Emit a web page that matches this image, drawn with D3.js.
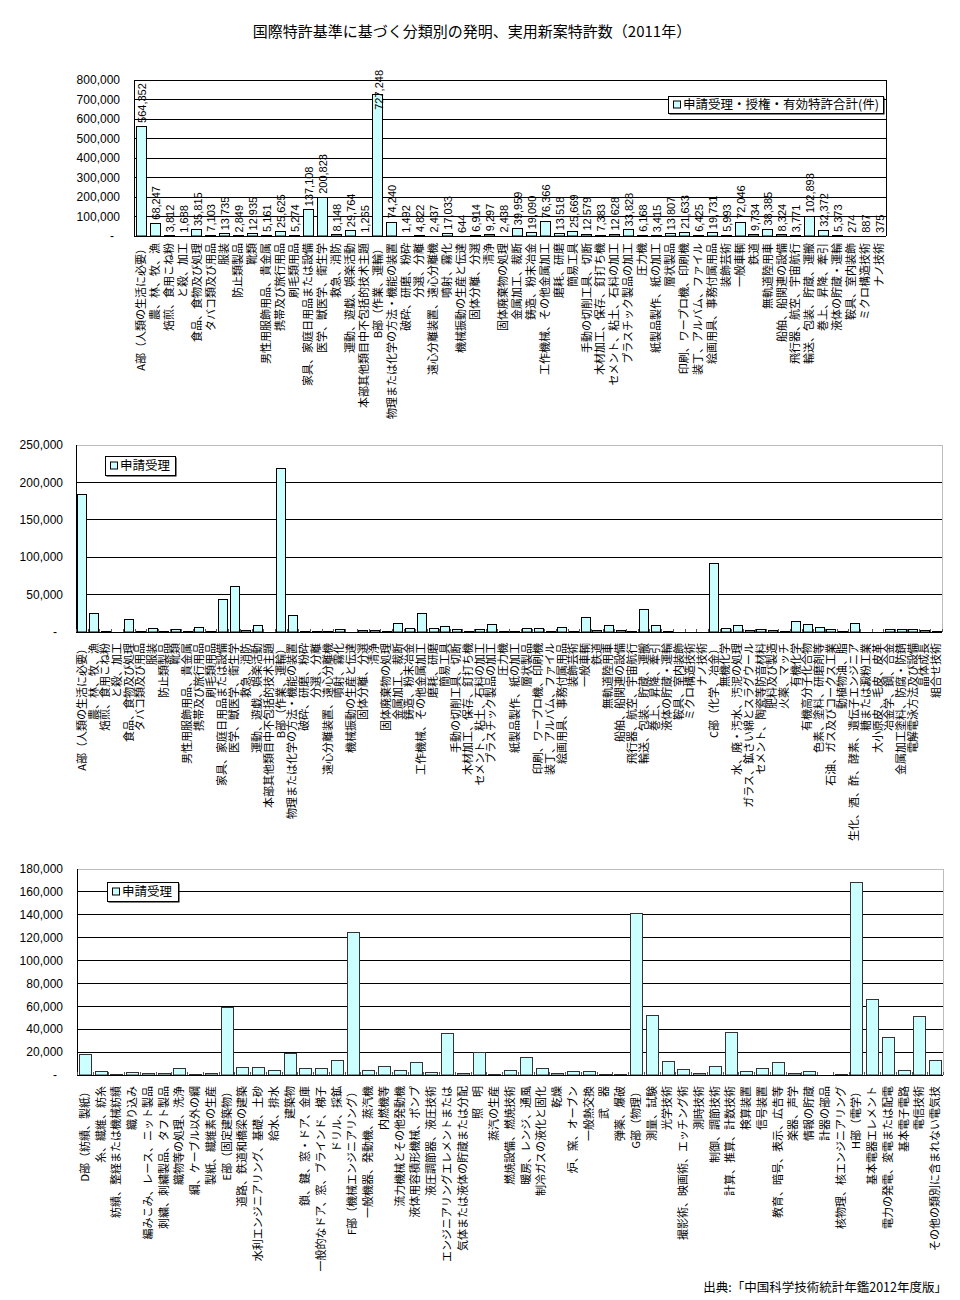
<!DOCTYPE html>
<html><head><meta charset="utf-8">
<script src="https://cdn.jsdelivr.net/npm/d3@7"></script>
<style>body{margin:0;background:#fff;} svg{display:block;}</style>
</head><body><svg id="c" width="960" height="1300"></svg>
<script>
const titleText = "国際特許基準に基づく分類別の発明、実用新案特許数（2011年）";
const sourceText = "出典:「中国科学技術統計年鑑2012年度版」";
const legend1 = "申請受理・授権・有効特許合計(件)";
const legend2 = "申請受理";

const catsA = ["A部（人類の生活に必要）","農、林、牧、漁","焙煎、食用こね粉","と殺、加工","食品、食物及び処理","タバコ類及び用品","服装","防止類製品","靴類","男性用服飾用品、貴金属","携帯及び旅行用品","刷毛類用品","家具、家庭日用品または設備","医学、獣医学、衛生学","救急、消防","運動、遊戯、娯楽活動","本部其他類目中不包括的技术主題"];
const catsB = ["B部（作業、運輸）","物理または化学の方法・機能の装置","破砕、研磨、粉砕","分選、分離","遠心分離装置、遠心分離機","噴射、霧化","機械振動の生産と伝達","固体分離、分選","清浄","固体廃棄物の処理","金属加工、裁断","鋳造、粉末冶金","工作機械、その他金属加工","磨耗、研磨","簡易工具","手動の切削工具、切断","木材加工、保存、釘打ち機","セメント、粘土、石料の加工","プラスチック製品の加工","圧力機","紙製品製作、紙の加工","層状製品","印刷、ワープロ機、印刷機","装丁、アルバム、ファイル","絵画用具、事務付属用品","装飾芸術","一般車輌","鉄道","無軌道陸用車","船舶、船関連の設備","飛行器、航空、宇宙航行","輸送、包装、貯蔵、運搬","巻上、昇降、牽引","液体の貯蔵・運輸","鞍具、室内装飾","ミクロ構造技術","ナノ技術"];
const catsC = ["C部（化学、冶金）","無機化学","水、廃・汚水、汚泥の処理","ガラス、鉱さい綿とスラグウール","セメント、陶瓷等防音材料","肥料及び製造","火薬、マッチ","有機化学","有機高分子化合物","色素、塗料、研磨剤等","石油、ガス及びコークス工業","動植物油、脂","生化、酒、酢、酵素、遺伝子エンジニア","糖または澱粉工業","大小原皮、毛皮、皮革","冶金学、鋼、合金","金属加工塗料、防腐・防錆","電解電泳方法及び設備","晶体成長","組合せ技術"];
const catsD = ["D部（紡績、製紙）","糸、繊維、紡糸","紡績、整経または機械紡績","織り込み","編みこみ、レース、ニット製品","刺繍、刺繍製品、タフト製品","織物等の処理、洗浄","綱、ケーブル以外の綱","製紙、繊維素の生産"];
const catsE = ["E部（固定建築物）","道路、鉄道和橋梁の建築","水利エンジニアリング、基礎、土砂","給水、排水","建築物","鎖、鍵、窓・ドア、金庫","一般的なドア、窓、ブラインド、梯子","ドリル、採鉱"];
const catsF = ["F部（機械エンジニアリング）","一般機器、発動機、蒸汽機","内燃機等","流力機械とその他発動機","液体用容積形機械、ポンプ","液圧調節器、液圧技術","エンジニアリングエレメントまたは","気体または液体の貯蔵または分配","照　明","蒸汽の生産","燃焼設備、燃焼技術","暖房、レンジ、通風","制冷ガスの液化と固化","乾燥","炉、窯、オーブン","一般熱交換","武　器","弾薬、爆破"];
const catsG = ["G部（物理）","測量、試験","光学技術","撮影術、映画術、エッチング術","測時技術","制御、調節技術","計算、推算、計数技術","検算装置","信号装置","教育、暗号、表示、広告等","楽器、声学","情報の貯蔵","計器の部品","核物理、核エンジニアリング"];
const catsH = ["H部（電学）","基本電器エレメント","電力の発電、変電または配電","基本電子電路","電信技術","その他の類別に含まれない電気技"];

// Chart 1: total of applications, grants and valid patents (A, B sections)
const totalA = [564352,68247,3812,1688,35815,7103,13735,2849,12935,5161,25625,5274,137108,200823,8148,29764,1265];
const totalB = [727248,74240,1492,4822,2437,17033,644,6914,9297,2438,39959,19090,76366,13518,25669,12579,7383,12628,33828,6168,3415,13807,21633,6425,19731,5993,72046,9734,38385,8324,3771,102893,32372,5373,274,887,375];
// Chart 2: applications (A, B, C sections)
const appsA = [185000,25000,1000,600,17000,1000,6000,1000,3500,1000,7000,1000,43700,61500,2200,9000,600];
const appsB = [218700,22300,2000,1000,800,4500,200,2700,2700,800,11600,5000,25000,6000,7600,3600,1000,3600,10700,1000,800,4900,4900,800,6200,1000,19600,2200,8900,2200,1000,30400,8900,1000,100,300,150];
const appsC = [92000,4900,8900,2200,3600,2200,800,14300,10700,6200,3600,1000,12000,500,300,3600,3600,3600,2200,1000];
// Chart 3: applications (D - H sections)
const appsD = [18100,3200,600,2300,1500,1500,5800,600,1500];
const appsE = [59800,6700,6700,4100,19200,5800,5800,12800];
const appsF = [124800,4100,7600,4100,11100,2300,36400,1500,20400,600,4100,16000,5800,1500,3200,3200,600,600];
const appsG = [141400,52200,12000,5500,1500,8200,37300,3200,5800,11100,1500,3200,200,600];
const appsH = [168500,66200,33000,4100,51300,12800];

const ticks1 = [0,100000,200000,300000,400000,500000,600000,700000,800000];
const ticks2 = [0,50000,100000,150000,200000,250000];
const ticks3 = [0,20000,40000,60000,80000,100000,120000,140000,160000,180000];

const JP = "'MS PGothic','Noto Sans CJK JP',sans-serif";
const NUM = "'Liberation Sans',Arial,sans-serif";
const fmt = d3.format(",");
const svg = d3.select("#c");

svg.append("text").attr("x",472).attr("y",37).attr("text-anchor","middle")
  .style("font-family",JP).style("font-size","15px").text(titleText);
svg.append("text").attr("x",947).attr("y",1292).attr("text-anchor","end")
  .style("font-family",JP).style("font-size","12.5px").text(sourceText);

function drawChart(c){
  const g = svg.append("g");
  const x = d3.scaleBand().domain(d3.range(c.cats.length)).range([c.x0,c.x1]).paddingInner(0.25).paddingOuter(0.125);
  const y = d3.scaleLinear().domain([0,c.max]).range([c.y1,c.y0]);
  c.ticks.forEach(t=>{
    if(t===0) return;
    if(t===c.max && !c.blackBorder) return;
    g.append("line").attr("x1",c.x0).attr("x2",c.x1).attr("y1",y(t)).attr("y2",y(t))
      .attr("stroke","#000").attr("stroke-width",1).attr("shape-rendering","crispEdges");
  });
  const bc = c.blackBorder ? "#000" : "#bdbdbd";
  g.append("line").attr("x1",c.x0).attr("x2",c.x1).attr("y1",y(c.max)).attr("y2",y(c.max)).attr("stroke",bc).attr("shape-rendering","crispEdges");
  g.append("line").attr("x1",c.x1).attr("x2",c.x1).attr("y1",y(c.max)).attr("y2",c.y1).attr("stroke",bc).attr("shape-rendering","crispEdges");
  c.ticks.forEach(t=>{
    g.append("text").attr("x", t===0 ? c.tx-6 : c.tx).attr("y",y(t)).attr("dy","0.35em")
      .attr("text-anchor","end").style("font-family",NUM).style("font-size","12px")
      .text(t===0 ? "-" : fmt(t));
  });
  g.selectAll("rect.bar").data(c.vals).join("rect").attr("class","bar")
    .attr("x",(d,i)=>Math.round(x(i))+0.5).attr("width",Math.round(x.bandwidth()))
    .attr("y",d=>Math.round(y(d))+0.5).attr("height",d=>Math.max(0,c.y1-Math.round(y(d))-0.5))
    .attr("fill","#ccffff").attr("stroke",c.barStroke).attr("stroke-width",1);
  g.append("line").attr("x1",c.x0).attr("x2",c.x0).attr("y1",y(c.max)).attr("y2",c.y1).attr("stroke","#000").attr("shape-rendering","crispEdges");
  g.append("line").attr("x1",c.x0).attr("x2",c.x1).attr("y1",c.y1).attr("y2",c.y1).attr("stroke","#000").attr("shape-rendering","crispEdges");
  if(c.xTicks){
    d3.range(c.cats.length+1).forEach(i=>{
      const xx = Math.round(c.x0 + i*x.step());
      g.append("line").attr("x1",xx+0.5).attr("x2",xx+0.5).attr("y1",c.y1).attr("y2",c.y1-3).attr("stroke","#555");
    });
  }
  if(c.valueLabels){
    c.vals.forEach((v,i)=>{
      const cx = x(i)+x.bandwidth()/2+1;
      const t = g.append("text").attr("dy","0.35em")
        .style("font-family",NUM).style("font-size","11px").text(fmt(v));
      const len = t.node().getComputedTextLength();
      // keep label inside the chart area (clamped at top like the original)
      const ty = Math.max(y(v)-3, c.labelMinTop + len);
      t.attr("x",cx).attr("y",ty).attr("transform",`rotate(-90,${cx},${ty})`);
    });
  }
  c.cats.forEach((s,i)=>{
    const cx = x(i)+x.bandwidth()/2, ty = c.labelTop;
    g.append("text").attr("x",cx).attr("y",ty).attr("dy","0.36em").attr("text-anchor","end")
      .attr("transform",`rotate(-90,${cx},${ty})`)
      .style("font-family",JP).style("font-size",c.labelSize+"px").text(s);
  });
  const L = c.legend;
  g.append("rect").attr("x",L.x+1.5).attr("y",L.y+1.5).attr("width",L.w).attr("height",L.h).attr("fill","#000");
  g.append("rect").attr("x",L.x+0.5).attr("y",L.y+0.5).attr("width",L.w).attr("height",L.h).attr("fill","#fff").attr("stroke","#000");
  g.append("rect").attr("x",L.x+5.5).attr("y",L.y+L.h/2-3.5).attr("width",7).attr("height",7).attr("fill","#ccffff").attr("stroke","#000");
  g.append("text").attr("x",L.x+15).attr("y",L.y+L.h/2).attr("dy","0.36em")
    .style("font-family",JP).style("font-size",L.size+"px").text(L.text);
}

drawChart({cats:catsA.concat(catsB), vals:totalA.concat(totalB), x0:134, x1:886, y0:80, y1:236,
  max:800000, ticks:ticks1, tx:120, blackBorder:true, barStroke:"#000", valueLabels:true, labelMinTop:70, xTicks:false,
  labelTop:243, labelSize:11, legend:{x:668,y:96,w:215,h:17,text:legend1,size:12.5}});

drawChart({cats:catsA.concat(catsB,catsC), vals:appsA.concat(appsB,appsC), x0:76, x1:942, y0:445, y1:632,
  max:250000, ticks:ticks2, tx:63, blackBorder:false, barStroke:"#000", valueLabels:false, xTicks:true,
  labelTop:643, labelSize:11, legend:{x:105,y:456,w:70,h:19,text:legend2,size:12.5}});

drawChart({cats:catsD.concat(catsE,catsF,catsG,catsH), vals:appsD.concat(appsE,appsF,appsG,appsH), x0:77, x1:943, y0:869, y1:1075,
  max:180000, ticks:ticks3, tx:63, blackBorder:false, barStroke:"#333", valueLabels:false, xTicks:true,
  labelTop:1086, labelSize:11, legend:{x:107,y:882,w:71,h:19,text:legend2,size:12.5}});
</script></body></html>
